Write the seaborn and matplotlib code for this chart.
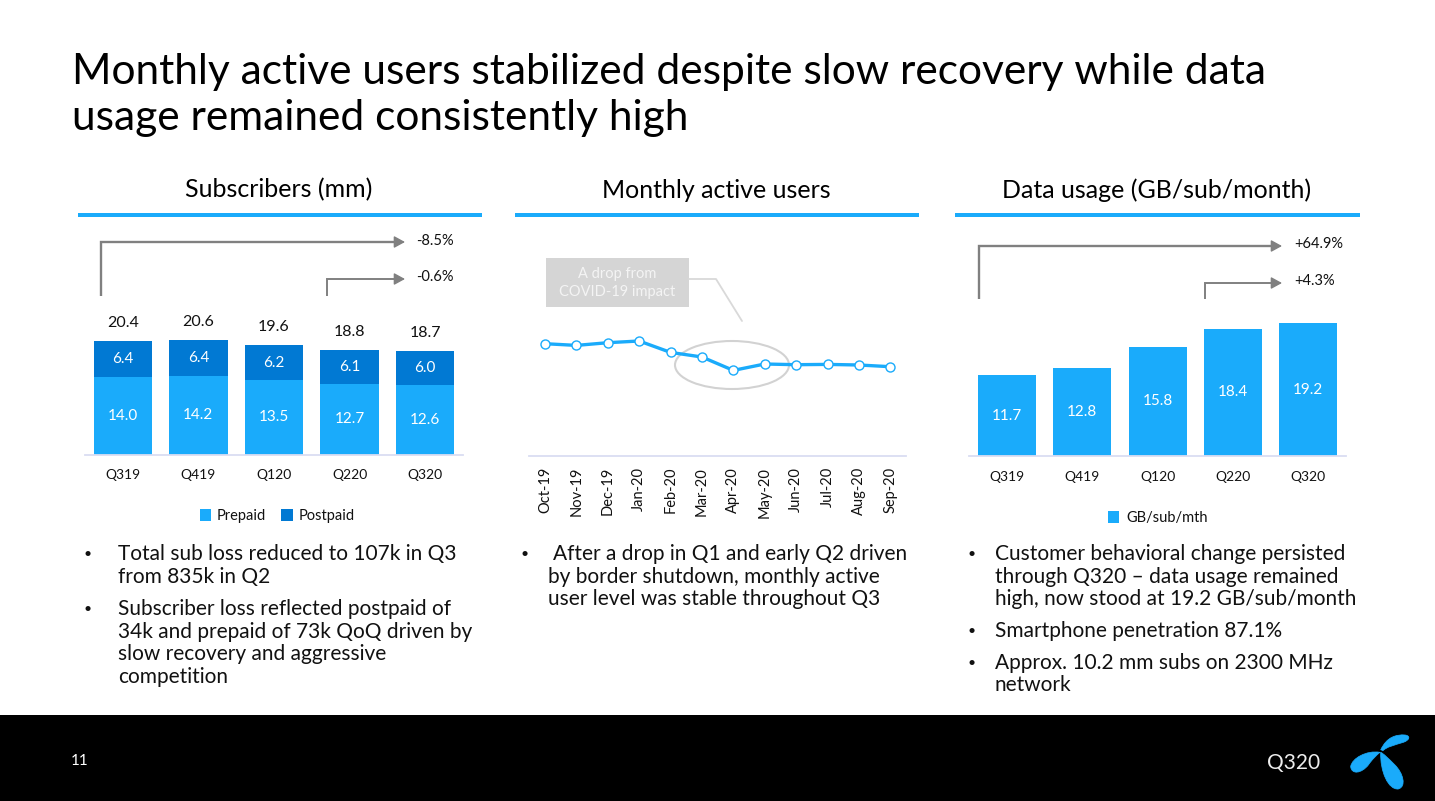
import numpy as np
import pandas as pd
import matplotlib.pyplot as plt
from matplotlib.patches import Ellipse, PathPatch, Rectangle
from matplotlib.path import Path
import seaborn as sns

# Chart data
quarters = ['Q319', 'Q419', 'Q120', 'Q220', 'Q320']
prepaid = [14.0, 14.2, 13.5, 12.7, 12.6]
postpaid = [6.4, 6.4, 6.2, 6.1, 6.0]
sub_totals = [20.4, 20.6, 19.6, 18.8, 18.7]
months = ['Oct-19', 'Nov-19', 'Dec-19', 'Jan-20', 'Feb-20', 'Mar-20',
          'Apr-20', 'May-20', 'Jun-20', 'Jul-20', 'Aug-20', 'Sep-20']
# no scale in the source, values are read as height above the axis
mau = [112.0, 110.3, 113.0, 114.7, 103.3, 98.7, 85.3, 91.7, 91.0, 91.3, 90.7, 89.0]
data_usage = [11.7, 12.8, 15.8, 18.4, 19.2]

BLUE = '#1AABFB'
DARK_BLUE = '#0179D3'
GREY = '#808080'
AXIS_LINE = '#DADDF2'
INK = '#111111'

W, H = 1435, 801

sns.set_theme(style='white')
plt.rcParams['font.family'] = ['Lato', 'DejaVu Sans']

fig = plt.figure(figsize=(W / 100, H / 100), dpi=100, facecolor='white')

# Full page overlay in pixel coordinates for slide furniture
page = fig.add_axes([0, 0, 1, 1], zorder=0)
page.set_xlim(0, W)
page.set_ylim(H, 0)
page.axis('off')


def chart_axes(left, right, top, bottom):
    ax = fig.add_axes([left / W, 1 - bottom / H, (right - left) / W, (bottom - top) / H], zorder=2)
    ax.patch.set_alpha(0)
    sns.despine(ax=ax, left=True)
    ax.spines['bottom'].set_color(AXIS_LINE)
    ax.spines['bottom'].set_linewidth(1.3)
    ax.set_yticks([])
    return ax


def finish_axes(ax, ymax, pad=10.5, n=5, size=10):
    ax.set_xlim(-0.5, n - 0.5)
    ax.set_ylim(0, ymax)
    ax.set_xlabel('')
    ax.set_ylabel('')
    ax.set_yticks([])
    ax.tick_params(axis='x', length=0, pad=pad, labelsize=size, labelcolor=INK)


def bracket(x0, y0, y1, x1, lw):
    page.plot([x0, x0, x1 - 8], [y0, y1, y1], color=GREY, lw=lw, solid_joinstyle='miter', solid_capstyle='butt')
    page.annotate('', xy=(x1, y1), xytext=(x1 - 9, y1),
                  arrowprops=dict(arrowstyle='-|>,head_length=0.55,head_width=0.3', color=GREY, lw=1,
                                  shrinkA=0, shrinkB=0))


def bullets(bullet_x, lines):
    for x, y, s, has_bullet in lines:
        page.text(x, y + 1, s, fontsize=15, color=INK, va='center', ha='left')
        if has_bullet:
            page.text(bullet_x, y + 1, '•', fontsize=10, color=INK, va='center', ha='center')


# Title
page.text(72, 72, 'Monthly active users stabilized despite slow recovery while data',
          fontsize=30.6, color='black', va='center', ha='left')
page.text(72, 118, 'usage remained consistently high',
          fontsize=30.6, color='black', va='center', ha='left')

# Panel headers and rules
for x0, x1, label in [(78, 482, 'Subscribers (mm)'),
                      (515, 919, 'Monthly active users'),
                      (955, 1360, 'Data usage (GB/sub/month)')]:
    page.text((x0 + x1) / 2 - 1, 190, label, fontsize=18, color='black', ha='center', va='center')
    page.add_patch(Rectangle((x0, 213), x1 - x0, 4, color=BLUE, lw=0))

# Subscribers
ax1 = chart_axes(85, 463, 225, 454.5)
subs = pd.DataFrame({'quarter': quarters, 'prepaid': prepaid, 'postpaid': postpaid})
sns.barplot(data=subs, x='quarter', y='prepaid', color=BLUE, saturation=1, width=0.77, linewidth=0, ax=ax1,
            label='Prepaid')
sns.barplot(data=subs, x='quarter', y='postpaid', bottom=subs['prepaid'], color=DARK_BLUE, saturation=1,
            width=0.77, linewidth=0, ax=ax1, label='Postpaid')
finish_axes(ax1, 229.5 / 5.54)
for i in range(len(quarters)):
    ax1.text(i, prepaid[i] / 2, f'{prepaid[i]:.1f}', color='white', fontsize=11, ha='center', va='center')
    ax1.text(i, prepaid[i] + postpaid[i] / 2, f'{postpaid[i]:.1f}', color='white', fontsize=11, ha='center', va='center')
    ax1.annotate(f'{sub_totals[i]:.1f}', (i, prepaid[i] + postpaid[i]), xytext=(0, 13), textcoords='offset points',
                 fontsize=11.5, color=INK, ha='center', va='center')
ax1.legend(loc='center', bbox_to_anchor=(277, 516), bbox_transform=page.transData, ncol=2, frameon=False,
           fontsize=10.5, handlelength=0.8, handleheight=0.8, handletextpad=0.4, columnspacing=1.0, labelcolor=INK)
bracket(101, 296, 242, 405, 1.7)
bracket(327, 296, 279, 405, 1.4)
page.text(416, 241, '-8.5%', fontsize=10.5, color=INK, va='center')
page.text(416, 277, '-0.6%', fontsize=10.5, color=INK, va='center')

# Monthly active users
ax2 = chart_axes(529.3, 906, 225, 455.7)
active = pd.DataFrame({'month': months, 'mau': mau})
sns.lineplot(data=active, x='month', y='mau', color=BLUE, lw=2.4, marker='o', markersize=6.5,
             markerfacecolor='white', markeredgecolor=BLUE, markeredgewidth=1, ax=ax2)
finish_axes(ax2, 230.7, pad=8, n=12, size=10.5)
ax2.tick_params(axis='x', labelrotation=90)
page.add_patch(Rectangle((546, 258), 143, 49, color='#D5D5D5', lw=0))
page.text(617.5, 274, 'A drop from', fontsize=10.5, color='#F4F4F4', ha='center', va='center')
page.text(617.5, 292, 'COVID-19 impact', fontsize=10.5, color='#F4F4F4', ha='center', va='center')
page.plot([689, 716, 742], [279, 279, 321], color='#D9D9D9', lw=1.3)
page.add_patch(Ellipse((732, 365), 114, 48, fill=False, edgecolor='#D2D2D2', lw=1.5))

# Data usage
ax3 = chart_axes(969.3, 1346, 225, 456)
usage = pd.DataFrame({'quarter': quarters, 'usage': data_usage})
sns.barplot(data=usage, x='quarter', y='usage', color=BLUE, saturation=1, width=0.77, linewidth=0, ax=ax3,
            label='GB/sub/mth')
finish_axes(ax3, 231 / 6.91)
for i, v in enumerate(data_usage):
    ax3.text(i, v / 2, f'{v:.1f}', color='white', fontsize=11, ha='center', va='center')
ax3.legend(loc='center', bbox_to_anchor=(1158, 518), bbox_transform=page.transData, frameon=False,
           fontsize=10.5, handlelength=0.8, handleheight=0.8, handletextpad=0.5, labelcolor=INK)
bracket(979, 299, 246, 1282, 1.7)
bracket(1205, 299, 283, 1282, 1.4)
page.text(1294, 244, '+64.9%', fontsize=10.5, color=INK, va='center')
page.text(1294, 281, '+4.3%', fontsize=10.5, color=INK, va='center')

# Bullet text
bullets(88, [(118, 553, 'Total sub loss reduced to 107k in Q3', True),
             (118, 576, 'from 835k in Q2', False),
             (118, 608, 'Subscriber loss reflected postpaid of', True),
             (118, 631, '34k and prepaid of 73k QoQ driven by', False),
             (118, 653, 'slow recovery and aggressive', False),
             (118, 676, 'competition', False)])
bullets(525, [(553, 553, 'After a drop in Q1 and early Q2 driven', True),
              (548, 576, 'by border shutdown, monthly active', False),
              (548, 598, 'user level was stable throughout Q3', False)])
bullets(972, [(995, 553, 'Customer behavioral change persisted', True),
              (995, 576, 'through Q320 – data usage remained', False),
              (995, 598, 'high, now stood at 19.2 GB/sub/month', False),
              (995, 630, 'Smartphone penetration 87.1%', True),
              (995, 662, 'Approx. 10.2 mm subs on 2300 MHz', True),
              (995, 684, 'network', False)])

# Footer band with page number and logo
page.add_patch(Rectangle((0, 715), W, H - 715, color='black', lw=0))
page.text(71, 761, '11', fontsize=11, color='white', va='center')
page.text(1267, 763, 'Q320', fontsize=15, color='#EDEDED', va='center')

lobes = [
    [(422, 105), (440, 65), (470, 58), (495, 60), (512, 62), (510, 75), (490, 82), (465, 90), (440, 95), (428, 108)],
    [(420, 112), (380, 105), (335, 130), (332, 155), (335, 180), (365, 175), (385, 150), (395, 135), (410, 120), (420, 112)],
    [(422, 112), (420, 170), (445, 225), (475, 222), (500, 215), (490, 175), (465, 150), (445, 130), (430, 115), (422, 112)],
]
for lobe in lobes:
    pts = np.array(lobe, dtype=float) / 3 + [1240, 715]
    codes = [Path.MOVETO] + [Path.CURVE4] * 9
    page.add_patch(PathPatch(Path(pts, codes), facecolor=BLUE, edgecolor=BLUE, lw=0.5, zorder=3))

fig.savefig('out.png', dpi=100)
